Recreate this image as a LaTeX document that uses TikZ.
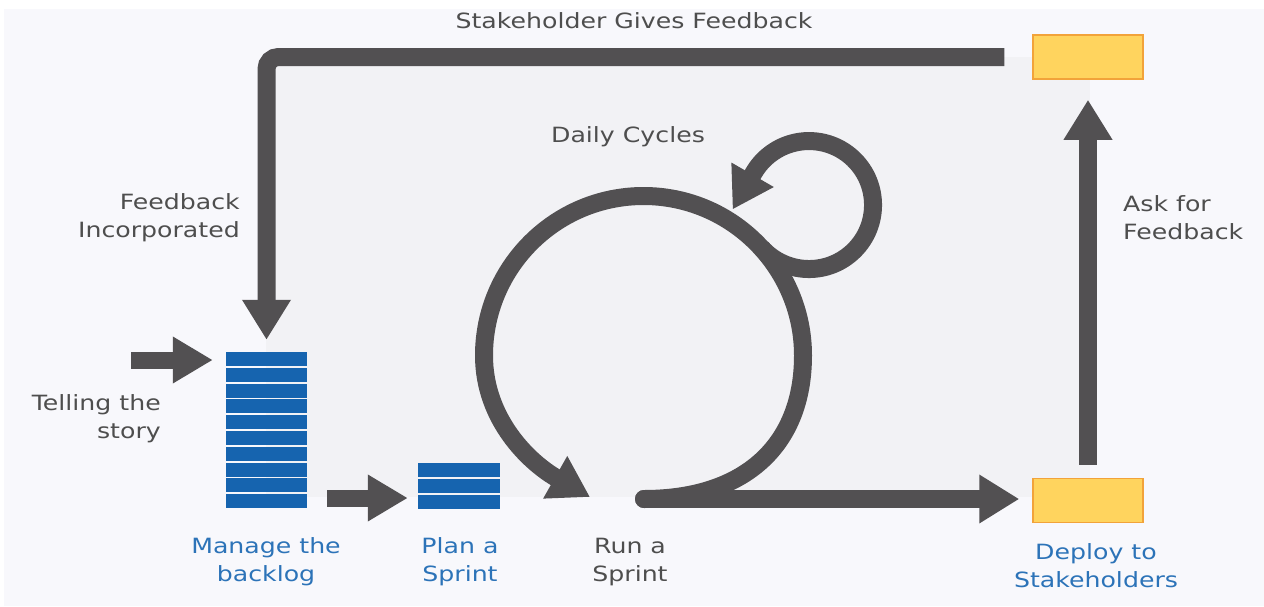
\documentclass[tikz,border=0pt]{standalone}
\usepackage{fontspec}
\setmainfont{DejaVu Sans}[FakeStretch=1.2]
\usetikzlibrary{arrows.meta,calc}

\definecolor{arrowgray}{HTML}{525052}
\definecolor{pagebg}{HTML}{F8F8FC}
\definecolor{innerbg}{HTML}{F2F2F5}
\definecolor{barblue}{HTML}{1664AF}
\definecolor{boxfill}{HTML}{FFD45E}
\definecolor{boxedge}{HTML}{F2A33A}
\definecolor{textgray}{HTML}{4E4E4E}
\definecolor{textblue}{HTML}{2C73B8}

\tikzset{
  fatarrow/.style={draw=arrowgray, line width=18pt, -{Triangle[length=40pt,width=46pt]}},
  slimarrow/.style={draw=arrowgray, line width=17pt, -{Triangle[length=40pt,width=44pt]}},
  graytext/.style={text=textgray, font=\fontsize{21}{28}\selectfont, inner sep=0pt, align=center},
  bluetext/.style={graytext, text=textblue},
  yellowbox/.style={draw=boxedge, fill=boxfill, line width=1.5pt, minimum width=110pt, minimum height=44pt, inner sep=0pt},
  stackbox/.style={inner sep=0pt}
}

\begin{document}
\begin{tikzpicture}[x=1pt, y=-1pt]
      \useasboundingbox (0,0) rectangle (1264,606);
      % backgrounds
      \fill[white] (0,0) rectangle (1264,606);
      \fill[pagebg] (4,9) rectangle (1264,606);
      \fill[innerbg] (266,57) rectangle (1090,497);
      % boxes
      \node[yellowbox] (feedbox) at (1088,57) {};
      \node[yellowbox] (deploy) at (1088,500.5) {};
      \node[stackbox, minimum width=81pt, minimum height=158pt] (backlog) at (266.5,431) {};
      \node[stackbox, minimum width=82pt, minimum height=47pt] (plan) at (459,486.5) {};
      % backlog and sprint bars
      \foreach \i in {0,...,9}
        \fill[barblue] (226,{352+15.8*\i}) rectangle (307,{366+15.8*\i});
      \foreach \i in {0,...,2}
        \fill[barblue] (418,{463+15.8*\i}) rectangle (500,{477+15.8*\i});
      % incoming story
      \coordinate (story) at (131,360);
      \draw[slimarrow, shorten >=13pt] (story) -- (story -| backlog.west);
      % backlog to sprint
      \coordinate (handoff) at (327,498);
      \draw[slimarrow, shorten >=10pt] (handoff) -- (handoff -| plan.west);
      % run the sprint: big loop
      \coordinate (run) at (644,499);
      \draw[fatarrow, line cap=round] (run) .. controls (745,499) and (803,445) .. (803,355.5)
        arc[start angle=0, end angle=180, radius=159.5pt]
        .. controls (484,420) and (530,463) .. (590,497);
      % daily cycle: small loop touching the big one
      \coordinate (daystart) at (761.7,248.1);
      \draw[fatarrow] (daystart) arc[start angle=222.3, end angle=510, radius=64pt] -- ++(-21,36.4);
      % deploy, ask, feedback
      \draw[fatarrow, line cap=round, shorten >=13pt] (run) -- (run -| deploy.west);
      \draw[fatarrow, shorten <=13pt, shorten >=20pt] (deploy.north) -- (feedbox.south);
      \draw[fatarrow, rounded corners=12pt, shorten <=28pt, shorten >=12pt] (feedbox.west) -| (backlog.north);
      % labels
      \node[graytext] (gives) at (634,21) {Stakeholder Gives Feedback};
      \node[graytext] (daily) at (628,137) {Daily Cycles};
      \node[graytext, anchor=east, align=right] (incorp) at (240,218) {Feedback\\Incorporated};
      \node[graytext, anchor=west, align=left] (ask) at (1123,218) {Ask for\\Feedback};
      \node[graytext, anchor=east, align=right] (telling) at (161,419) {Telling the\\story};
      \node[bluetext] (managelbl) at (266,562) {Manage the\\backlog};
      \node[bluetext] (planlbl) at (460,562) {Plan a\\Sprint};
      \node[graytext] (runlbl) at (630,562) {Run a\\Sprint};
      \node[bluetext] (deploylbl) at (1096,566) {Deploy to\\Stakeholders};
    \end{tikzpicture}
\end{document}
